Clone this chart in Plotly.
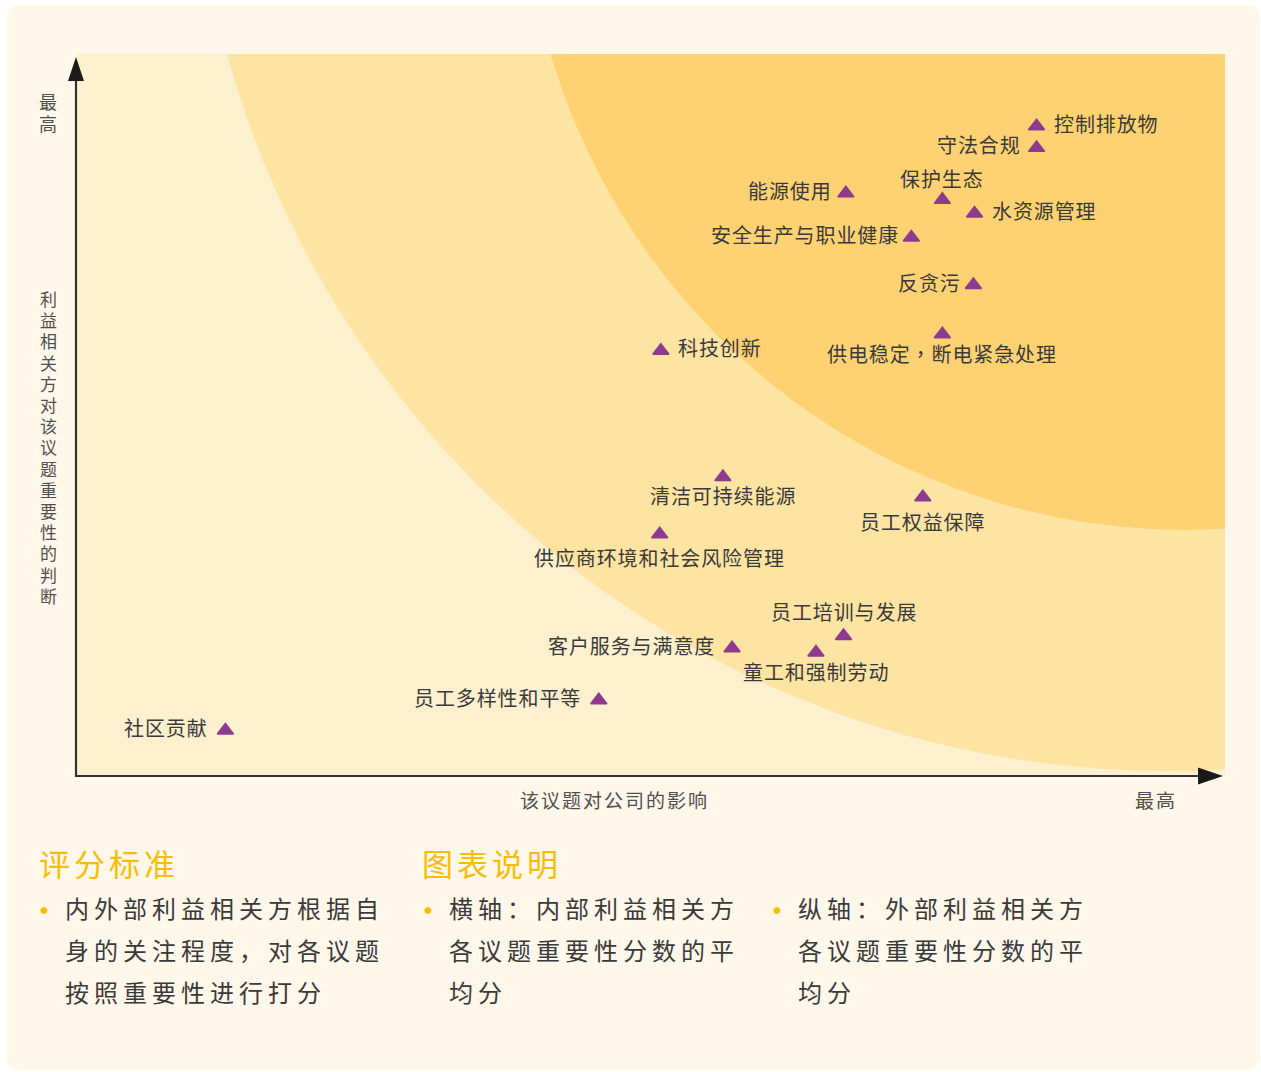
import plotly.graph_objects as go

# ---------------- data ----------------
issues = ["控制排放物", "守法合规", "保护生态", "能源使用", "水资源管理",
          "安全生产与职业健康", "反贪污", "供电稳定，断电紧急处理", "科技创新",
          "清洁可持续能源", "员工权益保障", "供应商环境和社会风险管理",
          "员工培训与发展", "童工和强制劳动", "客户服务与满意度",
          "员工多样性和平等", "社区贡献"]
company_impact = [83.6, 83.6, 75.4, 67.0, 78.2, 72.7, 78.1, 75.4, 50.9,
                  56.3, 73.7, 50.8, 66.8, 64.4, 57.1, 45.5, 13.0]
stakeholder_importance = [90.0, 87.0, 79.8, 80.7, 77.9, 74.6, 68.0, 61.2, 58.9,
                          41.4, 38.6, 33.5, 19.4, 17.1, 17.7, 10.5, 6.3]

y_title = "利益相关方对该议题重要性的判断"
x_title = "该议题对公司的影响"
axis_max_label = "最高"

heading_1 = "评分标准"
heading_2 = "图表说明"
col1_lines = ["内外部利益相关方根据自", "身的关注程度，对各议题", "按照重要性进行打分"]
col2_lines = ["横轴：内部利益相关方", "各议题重要性分数的平", "均分"]
col3_lines = ["纵轴：外部利益相关方", "各议题重要性分数的平", "均分"]

# ---------------- label placement (style) ----------------
label_side = ["right", "left", "top", "left", "right", "left", "left", "bottom",
              "right", "bottom", "bottom", "bottom", "top", "bottom", "left",
              "left", "left"]
label_gap_px = [15, 14, 21, 12, 15, 10, 10, 19, 15, 18, 24, 23, 24, 19, 15, 16, 15]

# ---------------- styling / geometry ----------------
W, H = 1261, 1072
PL, PR, PT, PB = 76, 1225, 54, 776          # plot area in pixels
FONT = "Noto Sans CJK SC"
PURPLE = "#8e3b8f"
GOLD = "#f8bd0b"
TXT = "#3a3a3a"
AXTXT = "#505050"
CARD = "#fef7ea"
BAND_LIGHT = "#fdf0cf"
BAND_MID = "#fde4a3"
BAND_DARK = "#fed273"


def px(x):
    return (x - PL) / (PR - PL)


def py(y):
    return (PB - y) / (PB - PT)


def path_from_px(points, close=True):
    s = "M{:.5f},{:.5f}".format(px(points[0][0]), py(points[0][1]))
    for (x, y) in points[1:]:
        s += " L{:.5f},{:.5f}".format(px(x), py(y))
    return s + (" Z" if close else "")


def rounded_rect(x0, y0, x1, y1, r):
    P = lambda x, y: "{:.5f},{:.5f}".format(px(x), py(y))
    return ("M" + P(x0 + r, y0) + " L" + P(x1 - r, y0) + " Q" + P(x1, y0) + " " + P(x1, y0 + r) +
            " L" + P(x1, y1 - r) + " Q" + P(x1, y1) + " " + P(x1 - r, y1) +
            " L" + P(x0 + r, y1) + " Q" + P(x0, y1) + " " + P(x0, y1 - r) +
            " L" + P(x0, y0 + r) + " Q" + P(x0, y0) + " " + P(x0 + r, y0) + " Z")


fig = go.Figure()

fig.add_trace(go.Scatter(
    x=company_impact, y=stakeholder_importance, mode="markers",
    marker=dict(symbol="triangle-up", size=14, color=PURPLE,
                line=dict(width=1.5, color=PURPLE)),
    text=issues, hoverinfo="text", showlegend=False,
))

shapes = []
# card background
shapes.append(dict(type="path", xref="paper", yref="paper", layer="below",
                   path=rounded_rect(7, 5, 1260, 1070, 14),
                   fillcolor=CARD, line=dict(width=0)))
# plot area bands
shapes.append(dict(type="rect", xref="x", yref="y", layer="below",
                   x0=0, x1=100, y0=0, y1=100, fillcolor=BAND_LIGHT, line=dict(width=0)))
shapes.append(dict(type="circle", xref="x", yref="y", layer="below",
                   x0=10.10, x1=179.98, y0=0.69, y1=271.05,
                   fillcolor=BAND_MID, line=dict(width=0)))
shapes.append(dict(type="circle", xref="x", yref="y", layer="below",
                   x0=38.99, x1=154.23, y0=34.07, y1=217.45,
                   fillcolor=BAND_DARK, line=dict(width=0)))
# axis lines
shapes.append(dict(type="line", xref="paper", yref="paper", layer="above",
                   x0=px(76), y0=py(777), x1=px(76), y1=py(78),
                   line=dict(color="#333333", width=2.2)))
shapes.append(dict(type="line", xref="paper", yref="paper", layer="above",
                   x0=px(75), y0=py(776), x1=px(1200), y1=py(776),
                   line=dict(color="#333333", width=2.2)))
# arrow heads
shapes.append(dict(type="path", xref="paper", yref="paper", layer="above",
                   path=path_from_px([(68, 81), (84, 81), (76, 57)]),
                   fillcolor="#1a1a1a", line=dict(width=0)))
shapes.append(dict(type="path", xref="paper", yref="paper", layer="above",
                   path=path_from_px([(1198, 767.5), (1198, 784.5), (1223, 776)]),
                   fillcolor="#1a1a1a", line=dict(width=0)))

annotations = []
# point labels
for name, xv, yv, side, gap in zip(issues, company_impact, stakeholder_importance,
                                   label_side, label_gap_px):
    fam = "Noto Sans CJK TC" if "，" in name else FONT
    a = dict(x=xv, y=yv, xref="x", yref="y", showarrow=False,
             text="<span style='letter-spacing:0.9px'>" + name + "</span>",
             font=dict(family=fam, size=20, color=TXT))
    if side == "right":
        a.update(xanchor="left", yanchor="middle", xshift=gap, yshift=3)
    elif side == "left":
        a.update(xanchor="right", yanchor="middle", xshift=-gap, yshift=3)
    elif side == "top":
        a.update(xanchor="center", yanchor="middle", yshift=gap)
    else:
        a.update(xanchor="center", yanchor="middle", yshift=-gap)
    annotations.append(a)


def vtext(s, glyph, step):
    base = step / 1.3
    body = "<br>".join("<span style='font-size:%gpx'>%s</span>" % (glyph, c) for c in s)
    return body, base


# vertical "最高"
t, b = vtext(axis_max_label, 18, 22)
annotations.append(dict(x=px(48), y=py(86), xref="paper", yref="paper", showarrow=False,
                        xanchor="center", yanchor="top", text=t,
                        font=dict(family=FONT, size=b, color=AXTXT)))
# vertical y title
t, b = vtext(y_title, 17, 21.2)
annotations.append(dict(x=px(48), y=py(284), xref="paper", yref="paper", showarrow=False,
                        xanchor="center", yanchor="top", text=t,
                        font=dict(family=FONT, size=b, color=AXTXT)))
# x title and "最高"
annotations.append(dict(x=px(614), y=py(799), xref="paper", yref="paper", showarrow=False,
                        xanchor="center", yanchor="middle",
                        text="<span style='letter-spacing:2px'>" + x_title + "</span>",
                        font=dict(family=FONT, size=19, color=AXTXT)))
annotations.append(dict(x=px(1156), y=py(799), xref="paper", yref="paper", showarrow=False,
                        xanchor="center", yanchor="middle",
                        text="<span style='letter-spacing:2px'>" + axis_max_label + "</span>",
                        font=dict(family=FONT, size=19, color=AXTXT)))

# headings
for txt, x0 in [(heading_1, 37), (heading_2, 420)]:
    annotations.append(dict(x=px(x0), y=py(862), xref="paper", yref="paper", showarrow=False,
                            xanchor="left", yanchor="middle",
                            text="<span style='letter-spacing:4px'>" + txt + "</span>",
                            font=dict(family=FONT, size=31, color=GOLD)))

# bullet columns
for lines, bx, tx in [(col1_lines, 44, 63), (col2_lines, 428, 447), (col3_lines, 777, 796)]:
    annotations.append(dict(x=px(bx), y=py(909), xref="paper", yref="paper", showarrow=False,
                            xanchor="center", yanchor="middle", text="•",
                            font=dict(family=FONT, size=32, color=GOLD)))
    for i, ln in enumerate(lines):
        annotations.append(dict(x=px(tx), y=py(907 + 42 * i), xref="paper", yref="paper",
                                showarrow=False, xanchor="left", yanchor="middle",
                                text="<span style='letter-spacing:5px'>" + ln + "</span>",
                                font=dict(family=FONT, size=24, color=TXT)))

fig.update_layout(
    width=W, height=H,
    margin=dict(l=PL, r=W - PR, t=PT, b=H - PB, pad=0),
    paper_bgcolor="#ffffff", plot_bgcolor="rgba(0,0,0,0)",
    xaxis=dict(range=[0, 100], visible=False, fixedrange=True),
    yaxis=dict(range=[0, 100], visible=False, fixedrange=True),
    shapes=shapes, annotations=annotations,
    font=dict(family=FONT),
    showlegend=False,
)

fig.write_html("out.html", config={"displayModeBar": False},
               post_script="document.body.style.margin='0';document.body.style.overflow='hidden';")
